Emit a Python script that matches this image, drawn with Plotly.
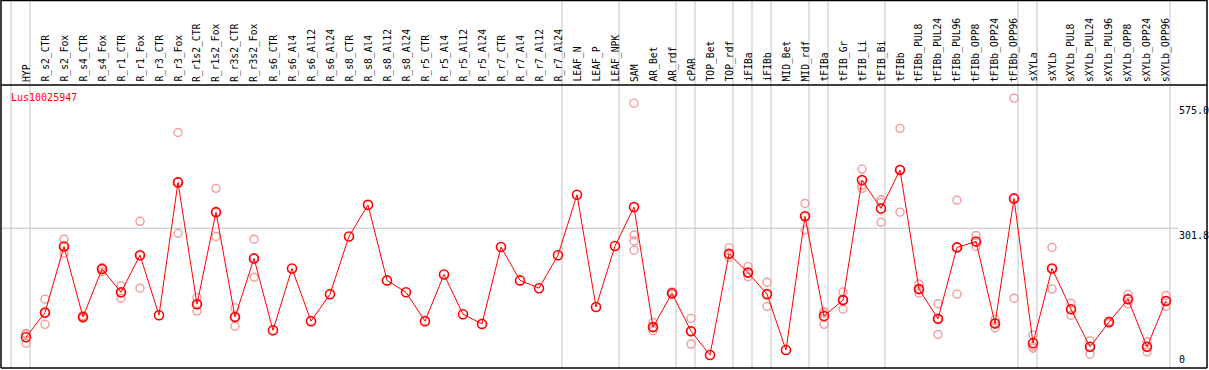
import plotly.graph_objects as go

# ---------------- data ----------------
gene_id = "Lus10025947"

categories = [
    "HYP", "R_s2_CTR", "R_s2_Fox", "R_s4_CTR", "R_s4_Fox", "R_r1_CTR", "R_r1_Fox",
    "R_r3_CTR", "R_r3_Fox", "R_r1s2_CTR", "R_r1s2_Fox", "R_r3s2_CTR", "R_r3s2_Fox",
    "R_s6_CTR", "R_s6_Al4", "R_s6_Al12", "R_s6_Al24", "R_s8_CTR", "R_s8_Al4",
    "R_s8_Al12", "R_s8_Al24", "R_r5_CTR", "R_r5_Al4", "R_r5_Al12", "R_r5_Al24",
    "R_r7_CTR", "R_r7_Al4", "R_r7_Al12", "R_r7_Al24", "LEAF_N", "LEAF_P", "LEAF_NPK",
    "SAM", "AR_Bet", "AR_rdf", "cPAR", "TOP_Bet", "TOP_rdf", "iFIBa", "iFIBb",
    "MID_Bet", "MID_rdf", "tFIBa", "tFIB_Gr", "tFIB_Li", "tFIB_Bi", "tFIBb",
    "tFIBb_PUL8", "tFIBb_PUL24", "tFIBb_PUL96", "tFIBb_OPP8", "tFIBb_OPP24",
    "tFIBb_OPP96", "sXYLa", "sXYLb", "sXYLb_PUL8", "sXYLb_PUL24", "sXYLb_PUL96",
    "sXYLb_OPP8", "sXYLb_OPP24", "sXYLb_OPP96",
]

mean_values = [
    64, 118, 262, 108, 213, 162, 243, 112, 402, 136, 337, 108, 236,
    79, 214, 99, 158, 284, 353, 188, 162, 99, 201, 114, 93,
    261, 188, 171, 243, 375, 130, 263,
    348, 86, 160, 77, 25, 246, 205, 158, 36, 328, 110, 145, 407, 345, 429,
    169, 104, 260, 273, 94, 367,
    51, 214, 125, 43, 97, 147, 43, 143,
]

replicate_values = [
    [70, 72, 51], [147, 116, 92], [278, 262, 247], [111, 108, 105], [216, 213, 207],
    [176, 161, 149], [317, 242, 171], [], [511, 404, 291], [151, 136, 121],
    [389, 337, 284], [128, 108, 88], [278, 236, 195],
    [], [], [], [], [], [], [], [], [], [], [], [], [], [], [], [],
    [], [], [],
    [575, 287, 274, 254], [96, 85, 78], [163, 160, 157], [105, 77, 49], [],
    [259, 246, 238], [218, 205, 196], [184, 158, 131], [], [356, 328, 298],
    [120, 116, 92], [163, 145, 125], [431, 396, 389], [364, 358, 315], [520, 430, 337],
    [180, 168, 160], [137, 104, 70], [363, 260, 158], [286, 272, 262], [103, 95, 84],
    [586, 367, 149],
    [69, 44, 40], [260, 214, 169], [138, 125, 112], [56, 43, 27], [99, 97, 94],
    [158, 147, 137], [54, 43, 32], [155, 143, 131],
]

tick_values = [575.0, 301.8, 0]
tick_labels = ["575.0", "301.8", "0"]
gridline_value = 301.8
separator_columns = [0, 1, 29, 32, 35, 36, 38, 39, 40, 42, 43, 46, 53, 54, 61]

# ---------------- layout geometry (pixels) ----------------
W, H = 1209, 370
COL0, COLW = 26.0, 19.0          # pixel centre of first column, column width
Y0PIX, YSCALE = 366.5, 0.458      # pixel of value 0, pixels per unit
HEADER_Y = 85                     # line under the labels
BOTTOM_Y = 368
RIGHT_X = 1207

def xp(px):
    return px / W

def yp(py):
    return 1 - py / H

x_range = [(0 - COL0) / COLW, (W - COL0) / COLW]
y_range = [(Y0PIX - H) / YSCALE, Y0PIX / YSCALE]

mono = "DejaVu Sans Mono"
red = "#ff0000"
pink = "#f29b9b"
grey = "#c4c4c4"

fig = go.Figure()

# replicates
rx, ry = [], []
for i, reps in enumerate(replicate_values):
    for v in reps:
        rx.append(i)
        ry.append(v)
fig.add_trace(go.Scatter(
    x=rx, y=ry, mode="markers",
    marker=dict(symbol="circle-open", size=8, color=pink, line=dict(width=1.4, color=pink)),
    hoverinfo="skip", showlegend=False,
))

# means
fig.add_trace(go.Scatter(
    x=list(range(len(categories))), y=mean_values, mode="lines+markers",
    line=dict(color=red, width=1),
    marker=dict(symbol="circle-open", size=9, color=red, line=dict(width=1.6, color=red)),
    text=categories, showlegend=False,
))

shapes = []
# vertical group separators
for c in separator_columns:
    x = c - 15.0 / COLW
    shapes.append(dict(type="line", xref="x", yref="paper", x0=x, x1=x,
                       y0=yp(BOTTOM_Y), y1=1, line=dict(color=grey, width=1), layer="below"))
# horizontal grid line
shapes.append(dict(type="line", xref="paper", yref="y", x0=xp(1), x1=xp(1178),
                   y0=gridline_value, y1=gridline_value, line=dict(color=grey, width=1), layer="below"))
# black frame
blk = dict(color="black", width=1.5)
shapes += [
    dict(type="line", xref="paper", yref="paper", x0=xp(1), x1=xp(RIGHT_X), y0=yp(0.5), y1=yp(0.5), line=blk),
    dict(type="line", xref="paper", yref="paper", x0=xp(1), x1=xp(RIGHT_X), y0=yp(HEADER_Y), y1=yp(HEADER_Y), line=blk),
    dict(type="line", xref="paper", yref="paper", x0=xp(1), x1=xp(RIGHT_X), y0=yp(BOTTOM_Y), y1=yp(BOTTOM_Y), line=blk),
    dict(type="line", xref="paper", yref="paper", x0=xp(1), x1=xp(1), y0=yp(0), y1=yp(BOTTOM_Y), line=blk),
    dict(type="line", xref="paper", yref="paper", x0=xp(RIGHT_X), x1=xp(RIGHT_X), y0=yp(0), y1=yp(BOTTOM_Y), line=blk),
]

annotations = []
for i, name in enumerate(categories):
    annotations.append(dict(
        x=i, xref="x", y=yp(HEADER_Y - 1), yref="paper",
        text=name, textangle=-90, showarrow=False,
        xanchor="center", yanchor="bottom",
        font=dict(family=mono, size=9.7, color="black"),
    ))
annotations.append(dict(
    x=xp(9), xref="paper", y=yp(97), yref="paper", text=gene_id, showarrow=False,
    xanchor="left", yanchor="middle", font=dict(family=mono, size=10, color=red),
))
for v, t in zip(tick_values, tick_labels):
    if v == 0:
        annotations.append(dict(x=xp(1177), xref="paper", y=yp(BOTTOM_Y - 1), yref="paper",
                                text=t, showarrow=False, xanchor="left", yanchor="bottom",
                                font=dict(family=mono, size=10, color="black")))
    else:
        annotations.append(dict(x=xp(1177), xref="paper", y=v, yref="y",
                                text=t, showarrow=False, xanchor="left", yanchor="top",
                                font=dict(family=mono, size=10, color="black")))

fig.update_layout(
    width=W, height=H,
    margin=dict(l=0, r=0, t=0, b=0),
    paper_bgcolor="white", plot_bgcolor="white",
    xaxis=dict(range=x_range, visible=False, showgrid=False, zeroline=False, fixedrange=True),
    yaxis=dict(range=y_range, visible=False, showgrid=False, zeroline=False, fixedrange=True),
    shapes=shapes, annotations=annotations,
    showlegend=False,
)

fig.write_html(
    "out.html",
    config={"displayModeBar": False},
    post_script="document.body.style.margin='0';document.body.style.overflow='hidden';",
)
